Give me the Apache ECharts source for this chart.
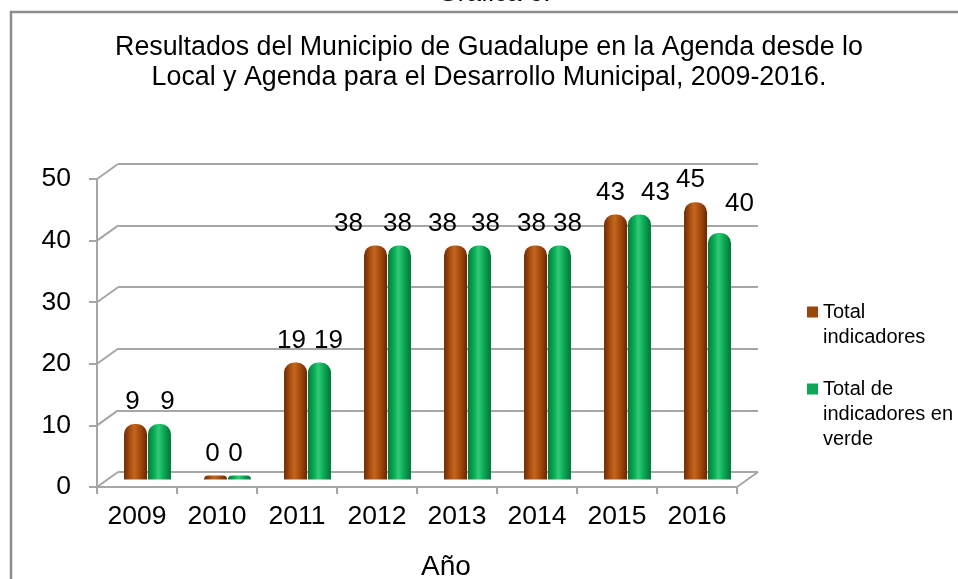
<!DOCTYPE html>
<html>
<head>
<meta charset="utf-8">
<script src="https://cdn.jsdelivr.net/npm/echarts@6/dist/echarts.min.js"></script>
<style>
html,body{margin:0;padding:0;background:#fff;}
#chart{width:958px;height:579px;}
</style>
</head>
<body>
<div id="chart"></div>
<script>
const categories = ['2009','2010','2011','2012','2013','2014','2015','2016'];
const totalIndicadores = [9, 0, 19, 38, 38, 38, 43, 45];
const indicadoresVerde = [9, 0, 19, 38, 38, 38, 43, 40];
const yTicks = [0, 10, 20, 30, 40, 50];
const seriesNames = ['Total\nindicadores', 'Total de\nindicadores en\nverde'];
const titleText = 'Resultados del Municipio de Guadalupe en la Agenda desde lo\nLocal y Agenda para el Desarrollo Municipal, 2009-2016.';
const captionText = 'Gráfica 6.';
const axisName = 'Año';

// label nudges (style only), in pixels, per category
const brownLabelDx = [-3, -3, -4, -27, -13, -4, -5, -5];
const greenLabelDx = [8, -4, 9, -2, 6, 8, 16, 20];
const greenLabelDy = [0, 0, 0, 0, 0, 0, 0, -7];

const FONT = '"Liberation Sans", Arial, sans-serif';
const DX = 21, DY = -15; // depth offset of the back wall
const GRID_LINE = '#a6a6a6';

const chart = echarts.init(document.getElementById('chart'), null, {renderer: 'canvas'});

const brownGrad = new echarts.graphic.LinearGradient(0, 0, 1, 0, [
  {offset: 0, color: '#6f2b04'},
  {offset: 0.3, color: '#b0540f'},
  {offset: 0.45, color: '#c2661f'},
  {offset: 0.7, color: '#a24a0c'},
  {offset: 1, color: '#6a2803'}
]);
const greenGrad = new echarts.graphic.LinearGradient(0, 0, 1, 0, [
  {offset: 0, color: '#007a3a'},
  {offset: 0.3, color: '#10b25a'},
  {offset: 0.45, color: '#2ccd76'},
  {offset: 0.7, color: '#0ea653'},
  {offset: 1, color: '#00733a'}
]);

function brownItems() {
  return totalIndicadores.map((v, i) => ({value: v, label: {offset: [brownLabelDx[i], 0]}}));
}
function greenItems() {
  return indicadoresVerde.map((v, i) => ({value: v, label: {offset: [greenLabelDx[i], greenLabelDy[i]]}}));
}

const squarePath = (cy) => 'path://M0,0h0.01v0.01h-0.01z M10.99,74.99h0.01v0.01h-0.01z M0,' + (cy - 5.5) + 'h11v11h-11z';

const option = {
  backgroundColor: '#ffffff',
  animation: false,
  textStyle: {fontFamily: FONT},
  title: {
    text: titleText,
    left: 489,
    top: 33,
    textAlign: 'center',
    padding: 0,
    textStyle: {fontFamily: FONT, fontSize: 26.8, fontWeight: 'normal', color: '#000', lineHeight: 30}
  },
  legend: {
    orient: 'vertical',
    left: 807,
    top: 287,
    padding: 0,
    itemGap: 14.5,
    itemWidth: 11,
    itemHeight: 75,
    selectedMode: false,
    textStyle: {fontFamily: FONT, fontSize: 20, color: '#000', lineHeight: 25},
    data: [
      {name: seriesNames[0], icon: squarePath(25), itemStyle: {color: '#9a460c'}},
      {name: seriesNames[1], icon: squarePath(12.5), itemStyle: {color: '#0fa554'}}
    ]
  },
  grid: [
    {left: 97, right: 221, top: 179, bottom: 92, outerBoundsMode: 'none', containLabel: false},
    {left: 97 + DX / 2, right: 221 - DX / 2, top: 179 + DY / 2, bottom: 92 - DY / 2, outerBoundsMode: 'none', containLabel: false},
    {left: 97 + DX, right: 221 - DX, top: 179 + DY, bottom: 92 - DY, outerBoundsMode: 'none', containLabel: false}
  ],
  xAxis: [
    {
      gridIndex: 0, type: 'category', data: categories,
      axisLine: {show: true, lineStyle: {color: GRID_LINE, width: 2}},
      axisTick: {show: true, alignWithLabel: false, interval: 0, length: 7, lineStyle: {color: GRID_LINE, width: 2}},
      axisLabel: {fontFamily: FONT, fontSize: 26.5, color: '#000', margin: 16},
      name: axisName, nameLocation: 'middle', nameGap: 66,
      nameTextStyle: {fontFamily: FONT, fontSize: 28, color: '#000', padding: [0, 0, 0, 58]}
    },
    {gridIndex: 1, type: 'category', data: categories, show: false},
    {gridIndex: 2, type: 'category', data: categories, show: false}
  ],
  yAxis: [
    {
      gridIndex: 0, type: 'value', min: 0, max: 50, interval: 10,
      axisLine: {show: true, lineStyle: {color: GRID_LINE, width: 2}},
      axisTick: {show: true, length: 8, lineStyle: {color: GRID_LINE, width: 2}},
      axisLabel: {fontFamily: FONT, fontSize: 26.5, color: '#000', margin: 26},
      splitLine: {show: false}
    },
    {gridIndex: 1, type: 'value', min: 0, max: 50, interval: 10, show: false, splitLine: {show: false}},
    {
      gridIndex: 2, type: 'value', min: 0, max: 50, interval: 10,
      axisLine: {show: false}, axisTick: {show: false}, axisLabel: {show: false},
      splitLine: {show: true, lineStyle: {color: GRID_LINE, width: 2}}
    }
  ],
  graphic: [
    {
      type: 'rect', z: -10, silent: true,
      shape: {x: 11, y: 12, width: 2000, height: 2000},
      style: {fill: 'none', stroke: '#8c8c8c', lineWidth: 2.5}
    },
    {
      type: 'text', z: -10, silent: true, x: 494, y: 7,
      style: {text: captionText, font: '26px ' + FONT, fill: '#000', align: 'center', verticalAlign: 'bottom'}
    }
  ],
  series: [
    {
      type: 'custom',
      xAxisIndex: 0, yAxisIndex: 0,
      z: 1, silent: true,
      data: yTicks.map(v => [0, v]),
      renderItem: function (params, api) {
        const cs = params.coordSys;
        const y = api.coord([0, api.value(1)])[1];
        const children = [{
          type: 'line',
          shape: {x1: cs.x, y1: y, x2: cs.x + DX, y2: y + DY},
          style: {stroke: GRID_LINE, lineWidth: 2}
        }];
        if (api.value(1) === 0) {
          children.push({
            type: 'line',
            shape: {x1: cs.x + cs.width, y1: y, x2: cs.x + cs.width + DX, y2: y + DY},
            style: {stroke: GRID_LINE, lineWidth: 2}
          });
        }
        return {type: 'group', children: children};
      }
    },
    {
      name: seriesNames[0], type: 'bar', xAxisIndex: 1, yAxisIndex: 1, z: 3,
      barWidth: 23, barGap: '4%', barMinHeight: 4,
      itemStyle: {color: brownGrad, borderRadius: [10, 10, 0, 0]},
      label: {show: true, position: 'top', distance: 9, fontFamily: FONT, fontSize: 26, color: '#000'},
      data: brownItems()
    },
    {
      name: seriesNames[1], type: 'bar', xAxisIndex: 1, yAxisIndex: 1, z: 3,
      barWidth: 23, barGap: '4%', barMinHeight: 4,
      itemStyle: {color: greenGrad, borderRadius: [10, 10, 0, 0]},
      label: {show: true, position: 'top', distance: 9, fontFamily: FONT, fontSize: 26, color: '#000'},
      data: greenItems()
    }
  ]
};
chart.setOption(option);
</script>
</body>
</html>
